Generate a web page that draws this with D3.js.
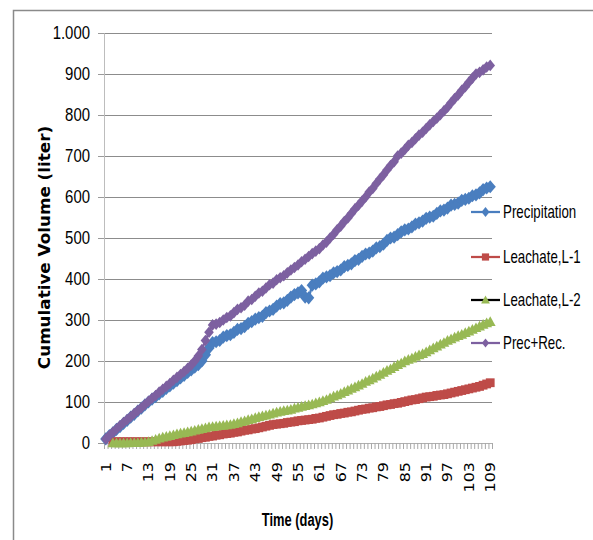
<!DOCTYPE html>
<html>
<head>
<meta charset="utf-8">
<script src="https://cdn.jsdelivr.net/npm/d3@7"></script>
<style>
  body { margin: 0; background: #fff; }
  svg { display: block; }
</style>
</head>
<body>
<div id="chart"></div>
<script>
// categories: day numbers 1..109
var days = d3.range(1, 110);
var xTickLabels = [1, 7, 13, 19, 25, 31, 37, 43, 49, 55, 61, 67, 73, 79, 85, 91, 97, 103, 109];
var yTicks = [0, 100, 200, 300, 400, 500, 600, 700, 800, 900, 1000];
var seriesNames = ["Precipitation", "Leachate,L-1", "Leachate,L-2", "Prec+Rec."];

// values (liter)
var precipitation = [
  10, 18, 25, 33, 40, 48, 55, 63, 70, 78,
  85, 93, 100, 107, 113, 120, 126, 133, 139, 146,
  152, 159, 165, 172, 178, 185, 191, 200, 215, 232,
  245, 247, 250, 258, 262, 264, 270, 277, 279, 284,
  292, 296, 302, 306, 309, 318, 322, 326, 334, 340,
  342, 348, 356, 362, 366, 372, 356, 354, 385, 388,
  393, 402, 405, 408, 415, 418, 422, 430, 433, 437,
  445, 448, 455, 461, 463, 468, 476, 479, 485, 494,
  500, 502, 508, 515, 520, 522, 527, 534, 537, 541,
  548, 551, 553, 560, 566, 568, 573, 580, 582, 585,
  592, 594, 597, 603, 605, 610, 618, 622, 625
];
var leachateL1 = [
  null, null, 3, 3, 3, 3, 3, 3, 3, 3,
  3, 3, 3, 3, 3, 3, 3, 3, 3, 3,
  4, 5, 6, 7, 8, 10, 11, 13, 14, 16,
  17, 19, 20, 22, 23, 24, 26, 27, 29, 31,
  32, 34, 35, 37, 39, 41, 43, 45, 46, 47,
  48, 50, 51, 52, 54, 55, 56, 57, 58, 60,
  61, 63, 65, 67, 69, 70, 72, 73, 75, 76,
  78, 80, 82, 83, 85, 86, 88, 89, 91, 93,
  94, 96, 97, 99, 101, 103, 105, 106, 108, 110,
  112, 113, 114, 116, 117, 118, 120, 122, 124, 126,
  128, 130, 132, 134, 136, 138, 141, 144, 147
];
var leachateL2 = [
  null, null, 0, 0, 0, 0, 0, 1, 1, 1,
  2, 2, 3, 6, 9, 12, 14, 16, 18, 20,
  22, 24, 25, 27, 29, 31, 33, 35, 37, 39,
  40, 41, 42, 43, 44, 45, 47, 49, 52, 54,
  57, 59, 62, 64, 66, 68, 70, 73, 75, 77,
  79, 80, 82, 85, 87, 89, 91, 93, 95, 98,
  100, 103, 106, 110, 114, 117, 121, 125, 129, 133,
  137, 141, 145, 150, 154, 158, 163, 167, 172, 177,
  181, 186, 191, 195, 200, 204, 207, 211, 215, 218,
  222, 227, 232, 236, 241, 245, 250, 254, 258, 262,
  265, 269, 273, 277, 281, 285, 289, 293, 296
];
var precRec = [
  10, 18, 26, 34, 42, 50, 57, 64, 72, 79,
  86, 94, 102, 109, 116, 124, 131, 138, 145, 153,
  160, 167, 174, 182, 190, 200, 212, 228, 250, 270,
  288, 290, 294, 300, 306, 310, 318, 326, 330, 336,
  346, 350, 358, 366, 370, 378, 386, 390, 398, 403,
  408, 415, 422, 428, 434, 442, 448, 455, 462, 468,
  474, 483, 490, 500, 509, 520, 529, 540, 549, 560,
  571, 580, 590, 600, 612, 621, 633, 644, 654, 666,
  677, 686, 700, 707, 716, 726, 733, 742, 751, 758,
  767, 776, 784, 792, 801, 810, 819, 830, 840, 849,
  860, 869, 880, 890, 900, 904, 910, 917, 921
];

var W = 593, H = 540;
var plotL = 104, plotR = 492, plotT = 33, plotB = 443;

var svg = d3.select("#chart").append("svg")
    .attr("width", W).attr("height", H);

// outer chart frame (only left/top edges fall inside the picture)
svg.append("path")
    .attr("d", "M13.5,540V10.5H593")
    .attr("fill", "none").attr("stroke", "#8a8a8a").attr("stroke-width", 1.5);

var x = d3.scaleBand().domain(days).range([plotL, plotR]);
var xEdge = d3.scaleLinear().domain([0, days.length]).range([plotL, plotR]);
var y = d3.scaleLinear().domain([0, 1000]).range([plotB, plotT]);
var cx = function(d) { return x(d) + x.bandwidth() / 2; };

var loc = d3.formatLocale({decimal: ",", thousands: ".", grouping: [3], currency: ["", ""]});
var fmt = loc.format(",d");

// gridlines
svg.append("g")
    .attr("transform", "translate(" + plotL + ",0)")
    .call(d3.axisLeft(y).tickValues(yTicks.slice(1)).tickSize(-(plotR - plotL)).tickFormat(""))
    .call(function(g) {
        g.select(".domain").remove();
        g.selectAll("line").attr("stroke", "#8c8c8c").attr("stroke-width", 1);
    });

// y axis, labels squeezed horizontally like the picture
var yAxis = svg.append("g")
    .attr("transform", "translate(" + plotL + ",0)")
    .call(d3.axisLeft(y).tickValues(yTicks).tickSize(6).tickPadding(8).tickFormat(fmt));
yAxis.select(".domain").attr("stroke", "#bdbdbd");
yAxis.selectAll("line").attr("stroke", "#9a9a9a");
yAxis.selectAll("text")
    .attr("font-family", "'Liberation Sans', Arial, sans-serif")
    .attr("font-size", 18).attr("fill", "#000")
    .attr("x", -14 / 0.83)
    .attr("transform", "scale(0.83,1)");

// x axis: one tick per day boundary
var xAxis = svg.append("g")
    .attr("transform", "translate(0," + plotB + ")")
    .call(d3.axisBottom(xEdge).tickValues(d3.range(0, days.length + 1)).tickSize(6).tickFormat(""));
xAxis.select(".domain").attr("stroke", "#b0b0b0");
xAxis.selectAll("line").attr("stroke", "#a8a8a8");

svg.append("g").selectAll("text")
    .data(xTickLabels)
    .enter().append("text")
    .attr("transform", function(d) { return "translate(" + cx(d) + ",462) rotate(-90) scale(1,0.85)"; })
    .attr("text-anchor", "end")
    .attr("dy", "0.36em")
    .attr("font-family", "'DejaVu Sans', Verdana, sans-serif")
    .attr("font-size", 16)
    .text(function(d) { return d; });

// axis titles
svg.append("text")
    .attr("transform", "translate(297.5,526) scale(0.68,1)")
    .attr("text-anchor", "middle")
    .attr("font-family", "'Liberation Sans', Arial, sans-serif")
    .attr("font-weight", "bold").attr("font-size", 19)
    .text("Time (days)");

svg.append("text")
    .attr("transform", "translate(44,247.5) rotate(-90) scale(1.05,1)")
    .attr("text-anchor", "middle").attr("dy", "0.36em")
    .attr("font-family", "'DejaVu Sans', Verdana, sans-serif")
    .attr("font-weight", "bold").attr("font-size", 16)
    .text("Cumulative Volume (liter)");

// marker shapes
function diamond(rx, ry) { return "M0," + (-ry) + "L" + rx + ",0L0," + ry + "L" + (-rx) + ",0Z"; }
function square(s) { return "M" + (-s) + "," + (-s) + "h" + (2 * s) + "v" + (2 * s) + "h" + (-2 * s) + "Z"; }
function triangle(s) { return "M0," + (-s) + "L" + s + "," + (s * 0.8) + "L" + (-s) + "," + (s * 0.8) + "Z"; }

var series = [
    {name: seriesNames[0], values: precipitation, color: "#4a7ebf", line: "#4a7ebf", lw: 2.25,
     marker: diamond(5.6, 6.6), legMarker: diamond(4, 5)},
    {name: seriesNames[1], values: leachateL1, color: "#be4b48", line: "#be4b48", lw: 2.25,
     marker: square(4.4), legMarker: square(3.6)},
    {name: seriesNames[2], values: leachateL2, color: "#98b954", line: "#000", lw: 1.5,
     marker: triangle(5.4), legMarker: triangle(4.4)},
    {name: seriesNames[3], values: precRec, color: "#7d60a0", line: "#7d60a0", lw: 2.25,
     marker: diamond(4.8, 5.8), legMarker: diamond(3.6, 4.6)}
];

series.forEach(function(s) {
    var pts = days.map(function(d, i) { return {day: d, v: s.values[i]}; })
        .filter(function(p) { return p.v != null; });
    var line = d3.line()
        .x(function(p) { return cx(p.day); })
        .y(function(p) { return y(p.v); });
    var g = svg.append("g");
    g.append("path").datum(pts)
        .attr("d", line)
        .attr("fill", "none")
        .attr("stroke", s.line)
        .attr("stroke-width", s.lw);
    g.selectAll("path.m").data(pts).enter().append("path")
        .attr("class", "m")
        .attr("d", s.marker)
        .attr("transform", function(p) { return "translate(" + cx(p.day) + "," + y(p.v) + ")"; })
        .attr("fill", s.color);
});

// legend
var legY = [212, 257, 300, 343];
var leg = svg.append("g").selectAll("g")
    .data(series)
    .enter().append("g")
    .attr("transform", function(d, i) { return "translate(0," + legY[i] + ")"; });
leg.append("line")
    .attr("x1", 471).attr("x2", 500)
    .attr("stroke", function(d) { return d.line; })
    .attr("stroke-width", 2.25);
leg.append("path")
    .attr("transform", "translate(485.5,0)")
    .attr("d", function(d) { return d.legMarker; })
    .attr("fill", function(d) { return d.color; });
leg.append("text")
    .attr("transform", "translate(503,0) scale(0.74,1)")
    .attr("dy", "0.36em")
    .attr("font-family", "'Liberation Sans', Arial, sans-serif")
    .attr("font-size", 18)
    .text(function(d) { return d.name; });
</script>
</body>
</html>
